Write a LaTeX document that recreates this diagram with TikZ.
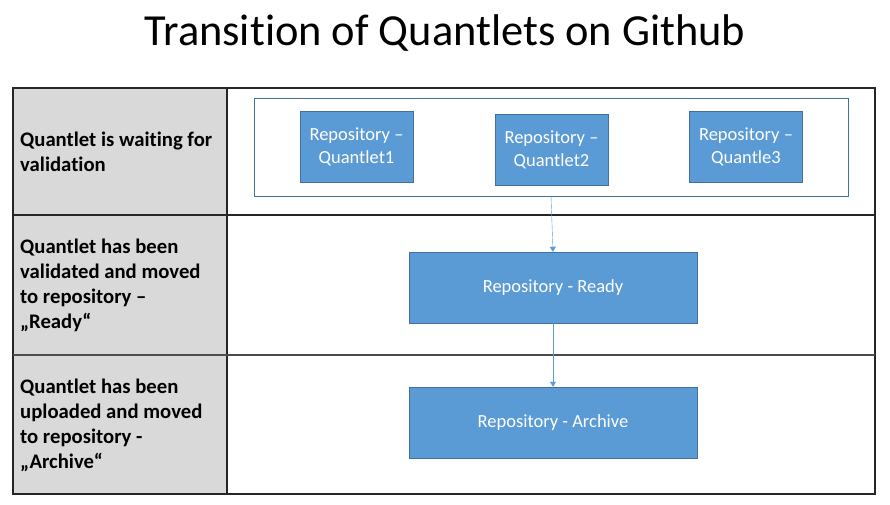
\documentclass[tikz,border=0pt]{standalone}
\usepackage{fontspec}
\setmainfont[Ligatures=NoCommon]{Carlito}
\usetikzlibrary{positioning,arrows.meta}
\definecolor{repoblue}{HTML}{5B9BD5}
\definecolor{repoedge}{HTML}{41719C}
\definecolor{cellgrey}{HTML}{D9D9D9}
\tikzset{
  repo/.style={draw=repoedge,fill=repoblue,text=white,align=center,inner sep=0pt,
    font=\fontsize{18.5}{23}\selectfont},
  stage/.style={anchor=west,align=left,inner sep=0pt,
    font=\fontsize{20.7}{25}\selectfont\bfseries},
  flow/.style={draw=repoblue,-{Triangle[length=5pt,width=6pt]}}
}
\begin{document}
\begin{tikzpicture}[x=1pt,y=-1pt]
\useasboundingbox (0,0) rectangle (890,505);
\node (title) at (445,33) {\fontsize{44.4}{54}\selectfont Transition of Quantlets on Github};
% table with the three stages
\fill[cellgrey] (13,88) rectangle (227,494);
\draw[line width=1.2pt,black!85] (13,88) rectangle (875,494);
\draw[line width=1.2pt,black!85] (227,88) -- (227,494);
\draw[line width=1.2pt,black!85] (13,215) -- (875,215);
\draw[line width=1.2pt,black!70] (13,355) -- (875,355);
\node[stage] (wait) at (20,152) {Quantlet is waiting for\\validation};
\node[stage] (valid) at (20,285) {Quantlet has been\\validated and moved\\to repository –\\„Ready“};
\node[stage] (upload) at (20,425) {Quantlet has been\\uploaded and moved\\to repository -\\„Archive“};
% repositories
\node[draw=repoedge,minimum width=594pt,minimum height=98pt] (queue) at (551,147) {};
\node[repo,minimum width=113pt,minimum height=71pt] (q1) at (356.5,147) {Repository –\\Quantlet1};
\node[repo,minimum width=113pt,minimum height=71pt] (q2) at (551.5,150) {Repository –\\Quantlet2};
\node[repo,minimum width=113pt,minimum height=71pt] (q3) at (746,146.5) {Repository –\\Quantle3};
\node[repo,minimum width=288pt,minimum height=71pt] (ready) at (553,287.5) {Repository - Ready};
\node[repo,minimum width=288pt,minimum height=71pt] (archive) at (553,422.5) {Repository - Archive};
\draw[flow] (queue.south) -- (ready.north);
\draw[flow] (ready) -- (archive);
\end{tikzpicture}
\end{document}
